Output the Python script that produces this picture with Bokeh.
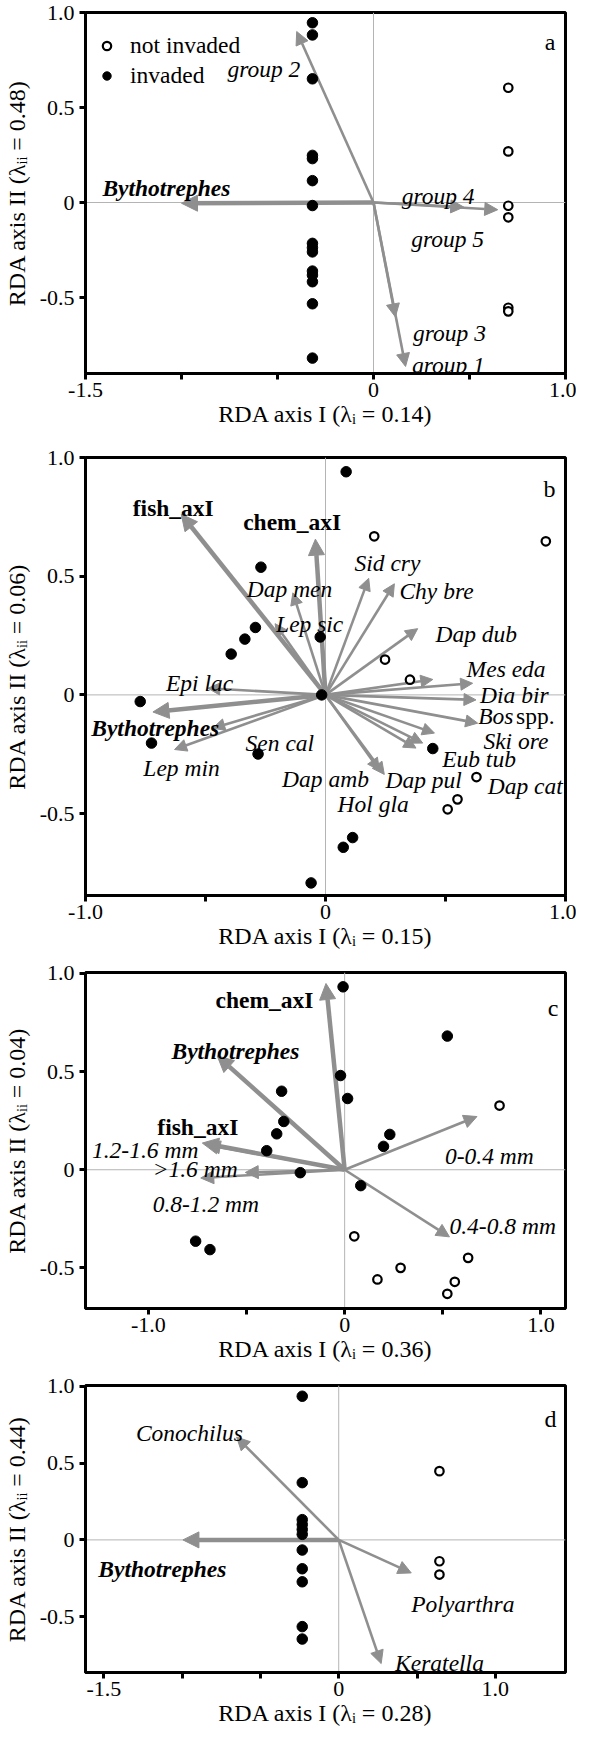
import numpy as np
from bokeh.plotting import figure
from bokeh.models import (Range1d, FixedTicker, Span, Arrow, NormalHead,
                          ColumnDataSource, Legend, LegendItem, Label)
from bokeh.layouts import column
from bokeh.core.properties import value
from bokeh.embed import file_html
from bokeh.resources import INLINE

FONT = "'Liberation Serif', 'Times New Roman', serif"
GREY = "#8f8f8f"

# ---------------- panel a ----------------
a_fill_x = [-0.318, -0.318, -0.318, -0.318, -0.318, -0.318, -0.318, -0.318,
            -0.318, -0.318, -0.318, -0.318, -0.318, -0.318, -0.318]
a_fill_y = [0.946, 0.882, 0.651, 0.248, 0.231, 0.115, -0.016, -0.215,
            -0.238, -0.26, -0.361, -0.382, -0.417, -0.533, -0.819]
a_open_x = [0.702, 0.702, 0.702, 0.702, 0.702, 0.702]
a_open_y = [0.604, 0.269, -0.017, -0.078, -0.554, -0.573]
a_env = ["Bythotrephes"]
a_env_x = [-1.0]
a_env_y = [-0.004]
a_grp = ["group 2", "group 4", "group 5", "group 3", "group 1"]
a_grp_x = [-0.40, 0.47, 0.647, 0.114, 0.167]
a_grp_y = [0.90, -0.024, -0.038, -0.602, -0.863]
a_lab_x = [-0.761, 0.147, 0.196, 0.206, 0.200]
a_lab_y = [0.705, 0.035, -0.191, -0.689, -0.854]
a_env_lab_x = [-1.412]
a_env_lab_y = [0.075]

# ---------------- panel b ----------------
b_fill_x = [0.086, -0.269, -0.292, -0.336, -0.393, -0.022, -0.016, -0.772,
            -0.725, -0.281, 0.447, 0.113, 0.074, -0.06]
b_fill_y = [0.94, 0.538, 0.284, 0.235, 0.172, 0.244, 0.0, -0.028,
            -0.203, -0.249, -0.226, -0.601, -0.642, -0.792]
b_open_x = [0.203, 0.918, 0.248, 0.352, 0.629, 0.55, 0.509]
b_open_y = [0.668, 0.647, 0.149, 0.064, -0.346, -0.44, -0.482]
b_env = ["fish_axI", "chem_axI", "Bythotrephes"]
b_env_x = [-0.601, -0.042, -0.719]
b_env_y = [0.761, 0.656, -0.072]
b_env_lab_x = [-0.803, -0.343, -0.976]
b_env_lab_y = [0.789, 0.729, -0.14]
b_sp = ["Sid cry", "Chy bre", "Dap men", "Lep sic", "Dap dub", "Mes eda",
        "Dia bir", "Bos spp.", "Ski ore", "Eub tub", "Dap cat", "Dap pul",
        "Dap amb", "Hol gla", "Epi lac", "Lep min", "Sen cal"]
b_sp_x = [0.18, 0.287, -0.136, -0.21, 0.384, 0.447, 0.613, 0.627, 0.634,
          0.405, 0.454, 0.377, 0.225, 0.245, -0.49, -0.629, -0.47]
b_sp_y = [0.491, 0.468, 0.43, 0.30, 0.279, 0.065, 0.049, -0.021, -0.119,
          -0.203, -0.161, -0.224, -0.318, -0.335, 0.028, -0.23, -0.14]
b_lab = ["Sid cry", "Chy bre", "Dap men", "Lep sic", "Dap dub", "Mes eda",
         "Dia bir", "Bos", "Ski ore", "Eub tub", "Dap cat", "Dap pul",
         "Dap amb", "Hol gla", "Epi lac", "Lep min", "Sen cal"]
b_lab_x = [0.121, 0.308, -0.328, -0.206, 0.458, 0.588, 0.644, 0.636, 0.658,
           0.486, 0.676, 0.25, -0.181, 0.05, -0.665, -0.759, -0.333]
b_lab_y = [0.556, 0.436, 0.444, 0.30, 0.258, 0.111, 0.0, -0.088, -0.196,
           -0.272, -0.385, -0.36, -0.356, -0.458, 0.049, -0.31, -0.203]
b_roman = ["spp."]
b_roman_x = [0.794]
b_roman_y = [-0.088]

# ---------------- panel c ----------------
c_fill_x = [-0.008, 0.523, -0.021, 0.015, -0.321, -0.31, -0.346, -0.397,
            -0.226, 0.082, 0.23, 0.198, -0.759, -0.686]
c_fill_y = [0.932, 0.681, 0.48, 0.363, 0.4, 0.246, 0.183, 0.097,
            -0.015, -0.081, 0.18, 0.119, -0.364, -0.407]
c_open_x = [0.789, 0.049, 0.167, 0.285, 0.629, 0.561, 0.523]
c_open_y = [0.327, -0.339, -0.559, -0.5, -0.449, -0.571, -0.632]
c_env = ["chem_axI", "Bythotrephes", "fish_axI"]
c_env_x = [-0.095, -0.649, -0.725]
c_env_y = [0.949, 0.58, 0.136]
c_env_lab_x = [-0.658, -0.882, -0.954]
c_env_lab_y = [0.864, 0.607, 0.22]
c_sz = ["1.2-1.6 mm", ">1.6 mm", "0.8-1.2 mm", "0-0.4 mm", "0.4-0.8 mm"]
c_sz_x = [-0.70, -0.506, -0.733, 0.674, 0.534]
c_sz_y = [0.126, -0.014, -0.042, 0.271, -0.342]
c_lab_x = [-1.287, -0.978, -0.978, 0.511, 0.534]
c_lab_y = [0.100, 0.006, -0.177, 0.071, -0.288]

# ---------------- panel d ----------------
d_fill_x = [-0.233, -0.233, -0.233, -0.233, -0.233, -0.233, -0.233, -0.233,
            -0.233, -0.233, -0.233]
d_fill_y = [0.936, 0.373, 0.132, 0.1, 0.068, 0.036, -0.066, -0.188, -0.273,
            -0.565, -0.646]
d_open_x = [0.643, 0.643, 0.643]
d_open_y = [0.448, -0.139, -0.226]
d_env = ["Bythotrephes"]
d_env_x = [-0.995]
d_env_y = [0.0]
d_env_lab_x = [-1.535]
d_env_lab_y = [-0.192]
d_sp = ["Conochilus", "Polyarthra", "Keratella"]
d_sp_x = [-0.652, 0.463, 0.271]
d_sp_y = [0.67, -0.215, -0.806]
d_lab_x = [-1.295, 0.463, 0.36]
d_lab_y = [0.697, -0.416, -0.80]

# axis ticks / titles
a_xticks = [-1.5, -1.0, -0.5, 0.0, 0.5, 1.0]
a_xlabels = ["-1.5", "", "", "0", "", "1.0"]
b_xticks = [-1.0, -0.5, 0.0, 0.5, 1.0]
b_xlabels = ["-1.0", "", "0", "", "1.0"]
c_xticks = [-1.0, -0.5, 0.0, 0.5, 1.0]
c_xlabels = ["-1.0", "", "0", "", "1.0"]
d_xticks = [-1.5, -1.0, -0.5, 0.0, 0.5, 1.0]
d_xlabels = ["-1.5", "", "", "0", "", "1.0"]
yticks = [-0.5, 0.0, 0.5, 1.0]
ylabels = ["-0.5", "0", "0.5", "1.0"]
x_titles = ["RDA axis I (\u03bb\u1d62 = 0.14)", "RDA axis I (\u03bb\u1d62 = 0.15)",
            "RDA axis I (\u03bb\u1d62 = 0.36)", "RDA axis I (\u03bb\u1d62 = 0.28)"]
y_titles = ["RDA axis II (\u03bb\u1d62\u1d62 = 0.48)", "RDA axis II (\u03bb\u1d62\u1d62 = 0.06)",
            "RDA axis II (\u03bb\u1d62\u1d62 = 0.04)", "RDA axis II (\u03bb\u1d62\u1d62 = 0.44)"]

W = 576


def style_axis(ax, ticks, labels, title, lab_standoff, title_standoff):
    ax.ticker = FixedTicker(ticks=ticks, minor_ticks=[])
    ax.major_label_overrides = {float(t): l for t, l in zip(ticks, labels)}
    ax.axis_label = title
    ax.axis_label_text_font = FONT
    ax.axis_label_text_font_size = "24px"
    ax.axis_label_text_font_style = "normal"
    ax.axis_label_text_color = "black"
    ax.axis_label_standoff = title_standoff
    ax.major_label_text_font = FONT
    ax.major_label_text_font_size = "22px"
    ax.major_label_text_color = "black"
    ax.major_label_standoff = lab_standoff
    ax.major_tick_in = 0
    ax.major_tick_out = 6
    ax.minor_tick_in = 0
    ax.minor_tick_out = 0
    ax.major_tick_line_width = 3
    ax.major_tick_line_color = "black"
    ax.axis_line_width = 3
    ax.axis_line_color = "black"


def make_fig(h, bt, bb, bl, br, xr, yr, xticks, xlabels, xtitle, ytitle):
    p = figure(width=W, height=h, x_range=Range1d(*xr), y_range=Range1d(*yr),
               output_backend="svg", toolbar_location=None,
               min_border_top=bt, min_border_bottom=bb,
               min_border_left=bl, min_border_right=br)
    p.grid.visible = False
    p.outline_line_color = "black"
    p.outline_line_width = 3
    p.background_fill_color = "white"
    p.border_fill_color = "white"
    style_axis(p.xaxis[0], xticks, xlabels, xtitle, 3, 1)
    style_axis(p.yaxis[0], yticks, ylabels, ytitle, 5, 7)
    for dim in ("width", "height"):
        p.add_layout(Span(location=0, dimension=dim, line_color="#b4b4b4",
                          line_width=1, level="underlay"))
    return p


def add_arrows(p, xs, ys, width, head):
    src = ColumnDataSource(dict(x0=[0.0] * len(xs), y0=[0.0] * len(xs),
                                x1=list(xs), y1=list(ys)))
    p.add_layout(Arrow(end=NormalHead(size=head, fill_color=GREY, line_color=GREY,
                                      line_width=1),
                       source=src, x_start="x0", y_start="y0", x_end="x1", y_end="y1",
                       line_color=GREY, line_width=width, level="underlay"))


def add_points(p, fx, fy, ox, oy):
    rf = p.scatter(fx, fy, marker="circle", size=10.5, fill_color="black",
                   line_color="black", line_width=1)
    ro = p.scatter(ox, oy, marker="circle", size=8.5, fill_color="white",
                   line_color="black", line_width=2.2)
    return rf, ro


def add_text(p, xs, ys, texts, style):
    p.text(x=xs, y=ys, text=texts, text_font=value(FONT), text_font_style=style,
           text_font_size="23.5px", text_align="left", text_baseline="alphabetic",
           text_color="black")


def add_letter(p, letter, fw, fh, dx, dy):
    p.add_layout(Label(x=fw - dx, y=fh - dy, x_units="screen", y_units="screen",
                       text=letter, text_font=FONT, text_font_size="24px",
                       text_align="right", text_baseline="alphabetic",
                       text_color="black"))


# ---- panel a
ha, bta, bba, bla, bra = 437, 12, 64, 83, 10
pa = make_fig(ha, bta, bba, bla, bra, (-1.5, 1.0), (-0.9, 1.0), a_xticks, a_xlabels,
              x_titles[0], y_titles[0])
add_arrows(pa, a_env_x, a_env_y, 4.5, 16)
add_arrows(pa, a_grp_x, a_grp_y, 2.6, 13)
add_text(pa, a_lab_x, a_lab_y, a_grp, "italic")
add_text(pa, a_env_lab_x, a_env_lab_y, a_env, "bold italic")
rf, ro = add_points(pa, a_fill_x, a_fill_y, a_open_x, a_open_y)
leg = Legend(items=[LegendItem(label="not invaded", renderers=[ro]),
                    LegendItem(label="invaded", renderers=[rf])],
             location="top_left", border_line_color=None, background_fill_alpha=0,
             glyph_width=21, glyph_height=21, label_text_font=FONT,
             label_text_font_size="23.5px", label_text_color="black",
             padding=5, margin=11, spacing=3, label_standoff=13,
             title=" ", title_text_font_size="7px", title_standoff=2)
pa.add_layout(leg)
add_letter(pa, "a", W - bla - bra, ha - bta - bba, 13, 29)

# ---- panel b
hb, btb, bbb, blb, brb = 522, 20, 64, 84, 8
pb = make_fig(hb, btb, bbb, blb, brb, (-1.0, 1.0), (-0.845, 1.0), b_xticks, b_xlabels,
              x_titles[1], y_titles[1])
add_arrows(pb, b_env_x, b_env_y, 4.5, 16)
add_arrows(pb, b_sp_x, b_sp_y, 2.6, 12)
add_text(pb, b_lab_x, b_lab_y, b_lab, "italic")
add_text(pb, b_roman_x, b_roman_y, b_roman, "normal")
add_text(pb, b_env_lab_x[:2], b_env_lab_y[:2], b_env[:2], "bold")
add_text(pb, b_env_lab_x[2:], b_env_lab_y[2:], b_env[2:], "bold italic")
add_points(pb, b_fill_x, b_fill_y, b_open_x, b_open_y)
add_letter(pb, "b", W - blb - brb, hb - btb - bbb, 14, 31)

# ---- panel c
hc, btc, bbc, blc, brc = 413, 13, 64, 83, 10
pc = make_fig(hc, btc, bbc, blc, brc, (-1.32, 1.125), (-0.707, 1.005), c_xticks, c_xlabels,
              x_titles[2], y_titles[2])
add_arrows(pc, c_env_x, c_env_y, 4.5, 16)
add_arrows(pc, c_sz_x, c_sz_y, 2.6, 13)
add_text(pc, c_lab_x, c_lab_y, c_sz, "italic")
add_text(pc, [c_env_lab_x[0], c_env_lab_x[2]], [c_env_lab_y[0], c_env_lab_y[2]],
         [c_env[0], c_env[2]], "bold")
add_text(pc, [c_env_lab_x[1]], [c_env_lab_y[1]], [c_env[1]], "bold italic")
add_points(pc, c_fill_x, c_fill_y, c_open_x, c_open_y)
add_letter(pc, "c", W - blc - brc, hc - btc - bbc, 10, 35)

# ---- panel d
hd, btd, bbd, bld, brd = 364, 13, 64, 83, 11
pd_ = make_fig(hd, btd, bbd, bld, brd, (-1.617, 1.448), (-0.864, 1.006), d_xticks, d_xlabels,
               x_titles[3], y_titles[3])
add_arrows(pd_, d_env_x, d_env_y, 4.5, 16)
add_arrows(pd_, d_sp_x, d_sp_y, 2.6, 13)
add_text(pd_, d_lab_x, d_lab_y, d_sp, "italic")
add_text(pd_, d_env_lab_x, d_env_lab_y, d_env, "bold italic")
add_points(pd_, d_fill_x, d_fill_y, d_open_x, d_open_y)
add_letter(pd_, "d", W - bld - brd, hd - btd - bbd, 11, 33)

layout = column(pa, pb, pc, pd_)
open("out.html", "w").write(file_html(layout, INLINE))
